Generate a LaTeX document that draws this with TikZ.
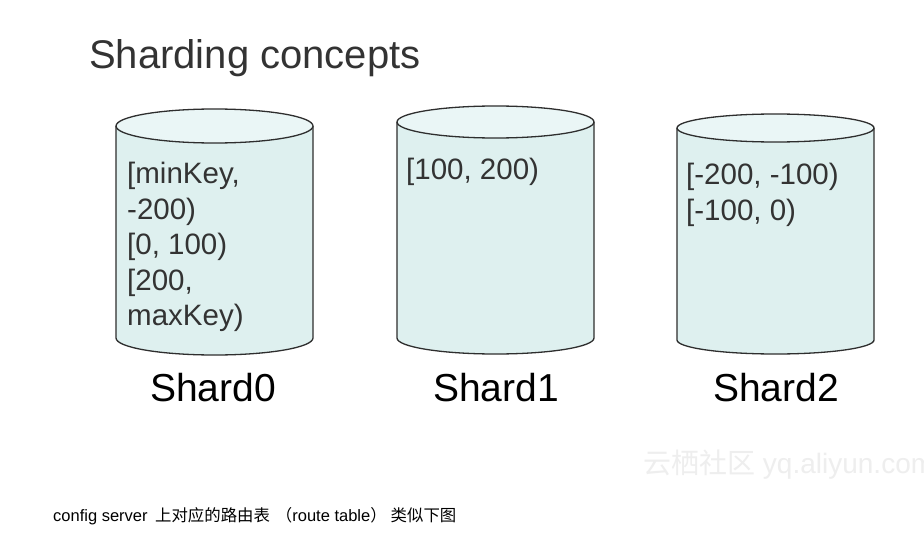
\documentclass[tikz,border=0pt]{standalone}
\usepackage{fontspec}
\setmainfont{Liberation Sans}
\newfontfamily\cjk{Noto Sans CJK SC}
\definecolor{cylline}{HTML}{2E2E2E}
\definecolor{cylbody}{HTML}{DEF0EF}
\definecolor{cyltop}{HTML}{EAF6F6}
\definecolor{txtgray}{HTML}{333333}
\definecolor{wmark}{HTML}{EEEEEE}
\tikzset{
  cylfill/.style={fill=cylbody},
  cylstroke/.style={draw=cylline, line width=1.3pt, line join=round},
  cyltopstyle/.style={fill=cyltop, draw=cylline, line width=1.3pt},
  rangetext/.style={anchor=north west, inner sep=0pt, align=left, text=txtgray,
    font=\fontsize{29.5}{35.5}\selectfont},
  shardlabel/.style={anchor=base, inner sep=0pt, text=black, font=\fontsize{39}{46}\selectfont},
}
\newcommand\cjkcap[1]{{\cjk\fontsize{16.4}{18}\selectfont #1}}
\newcommand\drawshardcyl[5]{% cx, top cy, bottom cy, rx, ry
  \fill[cylfill] (#1-#4,#2) -- (#1-#4,#3) arc[start angle=180,end angle=0,x radius=#4,y radius=#5] -- (#1+#4,#2) -- cycle;
  \draw[cylstroke] (#1-#4,#2) -- (#1-#4,#3) arc[start angle=180,end angle=0,x radius=#4,y radius=#5] -- (#1+#4,#2);
  \draw[cyltopstyle] (#1,#2) ellipse[x radius=#4, y radius=#5];
}
\begin{document}
\begin{tikzpicture}[x=1pt,y=-1pt]
\useasboundingbox[fill=white] (0,0) rectangle (924,543);
% watermark
\begin{scope}
\clip (0,0) rectangle (924,543);
\node[anchor=base west, inner sep=0pt, text=wmark, font=\fontsize{28}{30}\selectfont] (wm) at (643,473) {{\cjk 云栖社区} yq.aliyun.com};
\end{scope}
% title
\node[anchor=base west, inner sep=0pt, text=txtgray, font=\fontsize{40}{46}\selectfont] (title) at (89,69) {Sharding concepts};
% cylinders
\drawshardcyl{214.5}{126}{338}{98.5}{17}
\drawshardcyl{495.5}{122}{338}{98.5}{16}
\drawshardcyl{775.5}{128}{340}{98.5}{14}
% contents
\node[rangetext] (r0) at (127,162) {[minKey,\\-200)\\{}[0, 100)\\{}[200,\\maxKey)};
\node[rangetext] (r1) at (406,158) {[100, 200)};
\node[rangetext] (r2) at (686,163) {[-200, -100)\\{}[-100, 0)};
% labels
\node[shardlabel] (s0) at (213,401) {Shard0};
\node[shardlabel] (s1) at (496,401) {Shard1};
\node[shardlabel] (s2) at (776,401) {Shard2};
% caption
\node[anchor=base west, inner sep=0pt, text=black, font=\fontsize{16.5}{18}\selectfont] (cap) at (53,521) {config server\hspace{7.5pt}\cjkcap{上对应的路由表}\hspace{6pt}\cjkcap{（}route table\cjkcap{）}\hspace{4pt}\cjkcap{类似下图}};
\end{tikzpicture}
\end{document}
